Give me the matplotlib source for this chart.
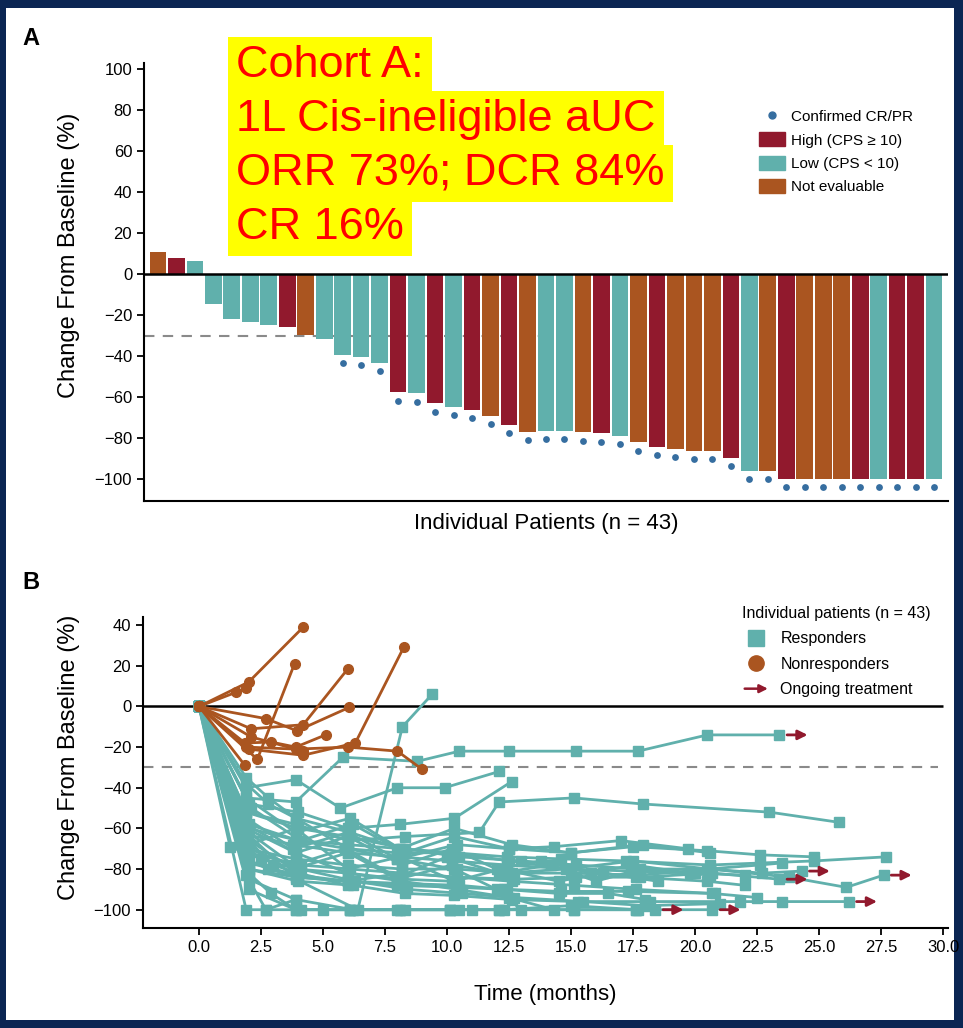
## Import Libraries
import numpy as np
import matplotlib
matplotlib.use('Agg')
import matplotlib.pyplot as plt
from matplotlib.lines import Line2D
from matplotlib.patches import Patch, Rectangle, FancyArrowPatch
from matplotlib.legend_handler import HandlerPatch

plt.rcParams['font.family'] = ['Liberation Sans', 'DejaVu Sans']

## colours
TEAL = '#60b0ac'
RED = '#91192d'
ORANGE = '#aa5520'
BLUE = '#366ea0'
NAVY = '#0b2653'

## Panel A data - waterfall (best change from baseline, %)
bar_change = [11, 8, 6.5, -14.5, -21.7, -23.4, -24.7, -25.7, -29.6, -31.6,
              -39.2, -40.3, -43.3, -57.6, -58.1, -63, -64.9, -66.3, -69.1, -73.6,
              -76.9, -76.6, -76.6, -77.1, -77.6, -79, -82, -84.2, -85, -86.3,
              -86.3, -89.4, -95.9, -96, -100, -100, -100, -100, -100, -100,
              -100, -100, -100]
# H = high CPS, L = low CPS, N = not evaluable
bar_cps = ['N', 'H', 'L', 'L', 'L', 'L', 'L', 'H', 'N', 'L',
           'L', 'L', 'L', 'H', 'L', 'H', 'L', 'H', 'N', 'H',
           'N', 'L', 'L', 'N', 'H', 'L', 'N', 'H', 'N', 'N',
           'N', 'H', 'L', 'N', 'H', 'N', 'N', 'N', 'H', 'L',
           'H', 'H', 'L']
confirmed = [0] * 10 + [1] * 33

## Panel B data - spider plot
# nonresponders
nr_t = [[0, 2.0, 4.2],
        [0, 1.5, 1.9],
        [0, 2.35, 3.85],
        [0, 2.1, 4.2, 6.0],
        [0, 2.7, 3.95, 6.05],
        [0, 1.85, 2.9, 3.9, 5.1],
        [0, 2.0, 4.2, 6.3, 8.25],
        [0, 1.9, 3.9, 6.0, 8.0, 9.0],
        [0, 1.85],
        [0, 2.1, 4.2]]
nr_v = [[0, 12, 39],
        [0, 7, 9],
        [0, -26, 21],
        [0, -11, -9, 18.5],
        [0, -6, -12, -0.5],
        [0, -18, -17.5, -20, -14],
        [0, -21, -24, -18, 29],
        [0, -20, -21, -20, -22, -31],
        [0, -29],
        [0, -15, -22]]

# responders
r_t = [[0, 1.9, 3.9, 5.8, 8.8, 10.5, 12.5, 15.2, 17.7, 20.5, 23.4],
       [0, 1.9, 3.9, 6.4, 8.2, 9.4],
       [0, 1.9, 3.9, 6.0, 8.3, 11.3, 12.1, 15.1, 17.9, 23.0, 25.8],
       [0, 2.0, 4.0, 6.0, 8.0, 10.3, 12.4, 14.6, 17.2, 20.6, 24.8, 27.7],
       [0, 1.9, 3.9, 6.0, 8.2, 10.4, 12.6, 15.0, 17.8, 20.6, 23.8, 26.1, 27.6],
       [0, 2.0, 4.0, 6.2, 8.3, 10.3, 12.6, 15.3, 18.2, 21.8, 23.5, 26.2],
       [0, 1.9, 3.8, 6.0, 8.0, 10.2, 12.3, 14.8, 17.5, 20.6, 22.7, 24.3],
       [0, 2.0, 4.1, 6.1, 8.2, 10.4, 12.7, 15.2, 17.8, 20.7, 23.4],
       [0, 1.9, 2.7, 4.1, 6.1, 8.1, 10.1, 12.1, 15.1, 17.6, 18.4],
       [0, 2.0, 3.9, 6.2, 8.3, 10.5, 12.3, 15.0, 17.7, 20.7],
       [0, 2.0, 4.0, 6.0, 8.2, 10.3, 12.5, 14.9, 17.6, 20.5, 22.0],
       [0, 1.9, 3.8, 6.0, 8.0, 10.4, 12.5, 15.0, 17.5, 20.5, 22.6, 24.8],
       [0, 1.9, 3.9, 5.7, 8.0, 9.9, 12.1],
       [0, 2.0, 4.0, 6.0, 8.1, 10.3, 12.6],
       [0, 1.25, 2.5, 3.9, 6.0, 8.2, 10.2],
       [0, 1.9, 2.8, 4.0, 6.0, 8.0, 10.5, 12.3, 14.5, 16.5, 18.0],
       [0, 2.1, 4.1, 6.2, 8.3, 10.3, 12.5, 14.3, 17.0, 19.7],
       [0, 1.9, 2.8, 3.9, 6.1, 8.1],
       [0, 1.9, 3.0, 4.0, 6.0],
       [0, 2.0, 2.9, 3.9, 5.0, 6.1, 8.0, 10.1],
       [0, 1.9, 2.7, 3.9],
       [0, 2.0, 3.9, 6.0, 8.1, 10.3, 12.2, 14.5, 16.3, 18.5],
       [0, 1.9, 3.9, 6.0, 8.2, 10.2, 12.0, 13.8, 15.8, 17.5, 19.8, 20.6],
       [0, 2.0, 3.8, 5.9, 8.0, 10.0, 12.1, 14.2, 16.0, 17.8, 20.6],
       [0, 1.9, 4.0, 6.0, 8.3, 10.5, 13.0, 15.2, 17.7, 20.5, 22.6, 23.5],
       [0, 2.0, 4.1, 6.3, 8.4, 10.6, 12.7, 15.5, 18.0, 21.0],
       [0, 1.9, 3.9, 6.1, 8.1, 10.3, 12.6, 15.0, 17.9, 20.6],
       [0, 2.0, 4.0, 6.0, 8.0, 10.4, 12.4, 14.6, 17.3, 20.8],
       [0, 1.9, 2.8, 3.9, 6.0, 8.0, 10.3, 12.0, 13.0],
       [0, 1.9, 3.9, 6.0, 8.2, 10.4, 12.5, 14.3],
       [0, 2.0, 3.9, 6.1, 8.1, 10.1, 11.0, 12.1, 15.1, 17.6],
       [0, 1.9, 3.8, 6.0, 8.0, 10.2, 12.4, 15.0, 17.4, 20.0, 22.0],
       [0, 2.0, 3.9, 6.0, 8.2, 10.4, 12.6, 15.1, 17.6, 20.7, 22.5]]
r_v = [[0, -45, -47, -25, -27, -22, -22, -22, -22, -14, -14],
       [0, -62, -85, -100, -10, 6],
       [0, -52, -58, -66, -64, -62, -47, -45, -48, -52, -57],
       [0, -58, -66, -70, -72, -72, -74, -75, -76, -78, -76, -74],
       [0, -70, -75, -78, -80, -80, -82, -82, -83, -80, -84, -89, -83],
       [0, -80, -86, -88, -92, -93, -95, -96, -96, -96, -96, -96],
       [0, -65, -80, -72, -85, -78, -82, -80, -76, -80, -82, -81],
       [0, -72, -78, -80, -82, -84, -85, -84, -84, -82, -85],
       [0, -100, -100, -100, -100, -100, -100, -100, -100, -100, -100],
       [0, -85, -95, -100, -100, -100, -100, -98, -100, -100],
       [0, -60, -66, -68, -70, -72, -76, -80, -84, -86, -88],
       [0, -55, -70, -62, -75, -68, -70, -72, -69, -71, -73, -74],
       [0, -40, -36, -50, -40, -40, -32],
       [0, -48, -52, -60, -58, -55, -37],
       [0, -69, -75, -80, -82, -85, -86],
       [0, -75, -80, -84, -86, -87, -88, -90, -92, -92, -95],
       [0, -50, -66, -58, -72, -64, -70, -69, -66, -70],
       [0, -35, -45, -55, -62, -70],
       [0, -65, -78, -82, -88],
       [0, -82, -92, -100, -100, -100, -100, -100],
       [0, -83, -100, -95],
       [0, -68, -60, -80, -74, -86, -80, -86, -82, -86],
       [0, -58, -72, -64, -78, -70, -80, -76, -82, -78, -82, -80],
       [0, -62, -78, -70, -84, -74, -82, -78, -86, -80, -83],
       [0, -52, -60, -64, -70, -74, -76, -78, -80, -80, -78, -77],
       [0, -70, -80, -86, -90, -92, -94, -96, -98, -97],
       [0, -45, -62, -55, -70, -60, -68, -72, -68, -72],
       [0, -77, -83, -86, -88, -89, -90, -91, -91, -92],
       [0, -38, -48, -55, -70, -75, -80, -90, -100],
       [0, -60, -72, -82, -86, -90, -94, -100],
       [0, -90, -100, -100, -100, -100, -100, -100, -100, -100],
       [0, -63, -68, -72, -74, -76, -78, -80, -81, -82, -83],
       [0, -80, -84, -86, -82, -84, -86, -88, -90, -92, -94]]
# responders still on treatment (index into r_t / r_v)
ongoing = [0, 4, 5, 6, 7, 8, 9]

cohort_lines = ['Cohort A:', '1L Cis-ineligible aUC', 'ORR 73%; DCR 84%', 'CR 16%']


class ArrowHandler(HandlerPatch):
    # legend handle drawn as a small arrow
    def create_artists(self, legend, orig_handle, xdescent, ydescent,
                       width, height, fontsize, trans):
        y = height / 2 - ydescent
        arr = FancyArrowPatch((-xdescent, y), (width - xdescent, y),
                              arrowstyle='-|>', mutation_scale=12,
                              color=RED, lw=1.8, transform=trans)
        return [arr]


W, H = 963, 1028
fig = plt.figure(figsize=(W / 100, H / 100), dpi=100)
fig.patch.set_facecolor(NAVY)
fig.add_artist(Rectangle((6 / W, 8 / H), 948 / W, 1012 / H, transform=fig.transFigure,
                         facecolor='white', edgecolor='none', zorder=-1))

## ---------------- Panel A ----------------
axA = fig.add_axes([144 / W, 1 - 501 / H, 804 / W, 438 / H])
x = np.arange(1, len(bar_change) + 1)
change = np.array(bar_change)
cps_colors = {'H': RED, 'L': TEAL, 'N': ORANGE}
axA.bar(x, change, width=0.9, color=[cps_colors[c] for c in bar_cps], edgecolor='none', zorder=2)
conf = np.array(confirmed, dtype=bool)
axA.scatter(x[conf], change[conf] - 4, s=24, color=BLUE, zorder=3, linewidths=0)
axA.axhline(0, color='black', lw=1.8, zorder=4)
axA.axhline(-30, color='#8a8a8a', lw=1.5, ls=(0, (5, 4)), zorder=1)
axA.set_xlim(0.25, 43.75)
axA.set_ylim(-110.6, 103)
axA.set_yticks(np.arange(-100, 101, 20))
axA.set_xticks([])
axA.tick_params(axis='y', labelsize=12, length=5, width=1.3)
for s in ['top', 'right']:
    axA.spines[s].set_visible(False)
axA.spines['left'].set_linewidth(1.5)
axA.spines['bottom'].set_linewidth(1.5)
axA.set_ylabel('Change From Baseline (%)', fontsize=17)
axA.yaxis.set_label_coords(-0.079, 0.56)
axA.set_xlabel('Individual Patients (n = 43)', fontsize=16, labelpad=9)

handlesA = [Line2D([], [], marker='o', ls='none', color=BLUE, markersize=5),
            Patch(color=RED), Patch(color=TEAL), Patch(color=ORANGE)]
labelsA = ['Confirmed CR/PR', 'High (CPS \u2265 10)', 'Low (CPS < 10)', 'Not evaluable']
axA.legend(handlesA, labelsA, loc='upper left', bbox_to_anchor=(0.765, 0.895),
           frameon=False, fontsize=11, handlelength=1.7, handleheight=1.0,
           handletextpad=0.4, labelspacing=0.55, borderpad=0, borderaxespad=0)

## ---------------- Panel B ----------------
axB = fig.add_axes([143 / W, 1 - 928 / H, 805 / W, 311 / H])
for t, v in zip(r_t, r_v):
    axB.plot(t, v, color=TEAL, lw=2, marker='s', markersize=7.5, zorder=2)
for i in ongoing:
    t_end, v_end = r_t[i][-1], r_v[i][-1]
    axB.annotate('', xy=(t_end + 1.25, v_end), xytext=(t_end + 0.2, v_end),
                 arrowprops=dict(arrowstyle='-|>', color=RED, lw=2, mutation_scale=14),
                 zorder=3)
for t, v in zip(nr_t, nr_v):
    axB.plot(t, v, color=ORANGE, lw=2, marker='o', markersize=7, zorder=4)
axB.hlines(0, -2.26, 30, color='black', lw=1.8, zorder=1)
axB.hlines(-30, -2.26, 29.8, color='#8a8a8a', lw=1.5, ls=(0, (5, 4)), zorder=1)
axB.set_xlim(-2.26, 30.2)
axB.set_ylim(-109, 44)
axB.set_yticks(np.arange(-100, 41, 20))
xt = np.arange(0, 30.1, 2.5)
axB.set_xticks(xt)
axB.set_xticklabels([f'{v:.1f}' for v in xt])
axB.tick_params(labelsize=12, length=5, width=1.3)
for s in ['top', 'right']:
    axB.spines[s].set_visible(False)
axB.spines['left'].set_linewidth(1.5)
axB.spines['bottom'].set_linewidth(1.5)
axB.set_ylabel('Change From Baseline (%)', fontsize=17)
axB.yaxis.set_label_coords(-0.078, 0.55)
axB.set_xlabel('Time (months)', fontsize=16, labelpad=21)

handlesB = [Line2D([], [], marker='s', ls='none', color=TEAL, markersize=11),
            Line2D([], [], marker='o', ls='none', color=ORANGE, markersize=11),
            Patch(color=RED)]
legB = axB.legend(handlesB, ['Responders', 'Nonresponders', 'Ongoing treatment'],
                  handler_map={Patch: ArrowHandler()},
                  title='Individual patients (n = 43)', title_fontsize=11.5,
                  loc='upper left', bbox_to_anchor=(0.744, 1.035), frameon=False,
                  fontsize=11.5, handlelength=1.8, handletextpad=0.6,
                  labelspacing=0.65, borderpad=0, borderaxespad=0, alignment='left')

## panel letters and highlighted cohort text
fig.text(22 / W, 1 - 45 / H, 'A', fontsize=17, fontweight='bold', va='baseline')
fig.text(22 / W, 1 - 589 / H, 'B', fontsize=17, fontweight='bold', va='baseline')
for k, line in enumerate(cohort_lines):
    fig.text(236 / W, 1 - (77 + 54 * k) / H, line, fontsize=32.5, color='#ff0000',
             va='baseline', ha='left',
             bbox=dict(boxstyle='square,pad=0.18', facecolor='#ffff00', edgecolor='none'))

fig.savefig('out.png', dpi=100, facecolor=fig.get_facecolor())
